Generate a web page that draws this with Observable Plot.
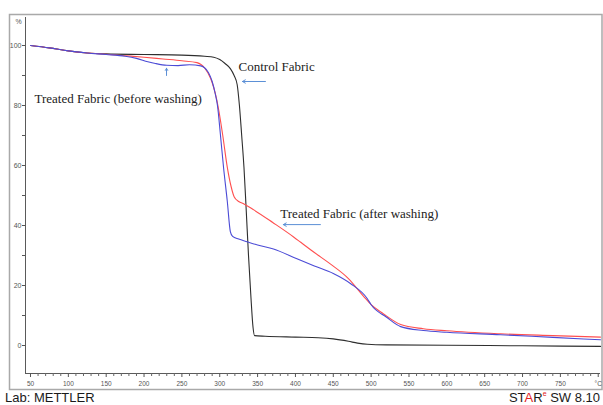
<!DOCTYPE html>
<html><head><meta charset="utf-8">
<script src="https://cdn.jsdelivr.net/npm/d3@7"></script>
<script src="https://cdn.jsdelivr.net/npm/@observablehq/plot@0.6"></script>
<style>
html,body{margin:0;padding:0;background:#fff;}
body{width:603px;height:405px;overflow:hidden;position:relative;font-family:Arial,"Liberation Sans",sans-serif;}
#chart{position:absolute;left:0;top:0;}
.foot{position:absolute;top:391px;font-size:13px;line-height:14px;color:#1a1a1a;white-space:nowrap;}
#lab{left:5px;}
#star{right:3px;}
#star .r{color:#e32222;}
#star sup{color:#e32222;font-size:7px;vertical-align:6px;line-height:0;}
</style></head>
<body>
<div id="chart"></div>
<div class="foot" id="lab">Lab: METTLER</div>
<div class="foot" id="star">ST<span class="r">A</span>R<sup>e</sup> SW 8.10</div>
<script>
// Temperature (°C) and residual mass (%)
const controlT = [50,75,100,125,150,200,250,280,292,300,307,314,319,323,326,329,332,335,338,341,344,346,360,400,430,450,470,482,495,520,600,700,803];
const controlV = [100,99.2,98.2,97.5,97.2,97.0,96.8,96.4,96.1,95.3,94.0,92.3,90.0,87.0,80.0,70.0,59.4,45.0,30.0,17.0,6.0,3.3,3.1,2.8,2.6,2.2,1.4,0.8,0.4,0.2,0.1,-0.1,-0.3];

const afterT = [50,75,100,125,150,175,200,225,250,270,280,288,292,296,299,304,310,315,319,325,332,345,370,398,407,425,446,470,490,500,516,539,569,600,671,740,803];
const afterV = [100,99.2,98.2,97.5,97.1,96.6,96.1,95.5,94.9,94.3,92.5,89.0,86.0,82.0,78.0,70.0,59.4,53.0,49.6,48.0,47.2,45.2,41.0,36.1,34.4,31.0,27.2,22.3,16.4,13.6,10.6,7.0,5.6,4.9,3.9,3.3,2.8];

const beforeT = [50,75,100,125,150,175,190,205,215,230,245,260,275,285,290,294,297,301,305,310,314,317,325,336,350,371,402,425,450,473,495,500,520,539,569,600,671,740,803];
const beforeV = [100,99.2,98.2,97.5,97.0,96.4,95.7,94.6,94.0,93.4,93.3,93.6,93.2,91.0,88.0,84.0,80.0,70.0,59.4,48.0,38.0,36.4,35.5,34.6,33.5,32.2,28.9,26.5,24.0,20.6,15.6,13.6,9.5,6.3,5.0,4.4,3.6,2.7,1.9];

const xDomain = [43.4, 803];
const yDomain = [-9.33, 109.33];
const yMajor = [0,20,40,60,80,100];
const yMinor = [10,30,50,70,90];
const xMajor = [50,100,150,200,250,300,350,400,450,500,550,600,650,700,750,800];
const xMinor = d3.range(60, 800, 10).filter(d => d % 50 !== 0);

const labelText = ["Control Fabric", "Treated Fabric (before washing)", "Treated Fabric (after washing)"];
const labelT = [324.8, 55.3, 380];
const labelV = [93, 82.3, 44];

const arrowT1 = [360.4, 229.7, 433];
const arrowV1 = [88, 90, 40.3];
const arrowT2 = [330, 229.7, 384];
const arrowV2 = [88, 92.4, 40.3];

const toRows = (T, V, name) => T.map((t, i) => ({t, v: V[i], name}));
const curves = [
  ...toRows(controlT, controlV, "Control Fabric"),
  ...toRows(afterT, afterV, "Treated Fabric (after washing)"),
  ...toRows(beforeT, beforeV, "Treated Fabric (before washing)")
];
const labels = labelText.map((s, i) => ({s, t: labelT[i], v: labelV[i]}));
const arrows = arrowT1.map((t, i) => ({t1: t, v1: arrowV1[i], t2: arrowT2[i], v2: arrowV2[i]}));

const chart = Plot.plot({
  width: 603,
  height: 391,
  marginLeft: 25,
  marginRight: 3,
  marginTop: 17,
  marginBottom: 18,
  style: {fontFamily: "Arial, 'Liberation Sans', sans-serif", background: "transparent", overflow: "visible"},
  x: {domain: xDomain},
  y: {domain: yDomain},
  color: {
    domain: ["Control Fabric", "Treated Fabric (after washing)", "Treated Fabric (before washing)"],
    range: ["#2e2e2e", "#ff4f4f", "#4b4bd6"]
  },
  marks: [
    Plot.frame({stroke: "#a9a9a9", strokeWidth: 1.5, insetLeft: -16, insetTop: -3, insetRight: -1.5, insetBottom: -16}),
    Plot.ruleX([xDomain[0]], {stroke: "#5a5a5a", strokeWidth: 1}),
    Plot.ruleY([yDomain[0]], {stroke: "#5a5a5a", strokeWidth: 1}),
    Plot.axisY(yMajor, {anchor: "left", tickSize: 3, tickPadding: 1, fontSize: 7, color: "#555", label: null}),
    Plot.axisY(yMinor, {anchor: "left", tickSize: 3, tickFormat: () => "", color: "#555", label: null}),
    Plot.axisX(xMinor, {anchor: "bottom", tickSize: 3, tickFormat: () => "", color: "#666", label: null}),
    Plot.axisX(xMajor, {anchor: "bottom", tickSize: 4, tickPadding: 3.5, fontSize: 6.5, color: "#555", label: null,
      tickFormat: d => d === 800 ? "°C" : String(d)}),
    Plot.text(["%"], {frameAnchor: "top-left", dx: -10, dy: 2, fontSize: 7, fill: "#555"}),
    Plot.line(curves, {x: "t", y: "v", z: "name", stroke: "name", strokeWidth: 1.1, curve: "monotone-x"}),
    Plot.text(labels, {x: "t", y: "v", text: "s", textAnchor: "start", fontFamily: "'Liberation Serif', 'Times New Roman', serif", fontSize: 13, fill: "#222"}),
    Plot.arrow(arrows, {x1: "t1", y1: "v1", x2: "t2", y2: "v2", stroke: "#5b8fd6", strokeWidth: 1, headLength: 5})
  ]
});
document.getElementById("chart").appendChild(chart);
</script>
</body></html>
